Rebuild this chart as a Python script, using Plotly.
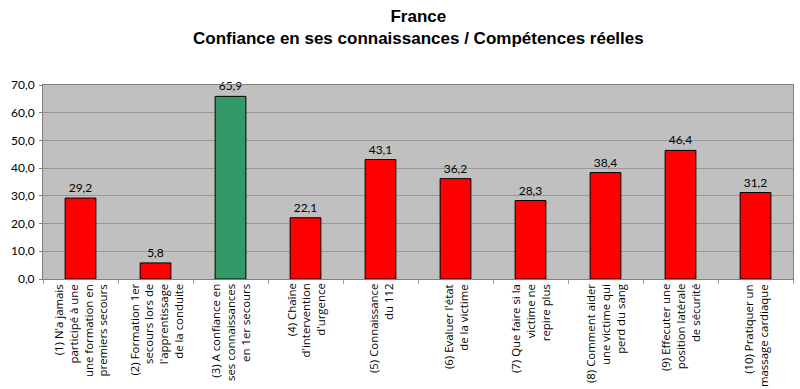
import plotly.graph_objects as go

categories = [
    "(1) N'a jamais<br>participé à une<br>une formation en<br>premiers secours",
    "(2) Formation 1er<br>secours lors de<br>l'apprentissage<br>de la conduite",
    "(3) A confiance en<br>ses connaissances<br>en 1er secours",
    "(4) Chaîne<br>d'intervention<br>d'urgence",
    "(5) Connaissance<br>du 112",
    "(6) Evaluer l'état<br>de la victime",
    "(7) Que faire si la<br>victime ne<br>repire plus",
    "(8) Comment aider<br>une victime qui<br>perd du sang",
    "(9) Effecuter une<br>position latérale<br>de sécurité",
    "(10) Pratiquer un<br>massage cardiaque",
]
values = [29.2, 5.8, 65.9, 22.1, 43.1, 36.2, 28.3, 38.4, 46.4, 31.2]
bar_colors = ["#FF0000", "#FF0000", "#339966", "#FF0000", "#FF0000",
              "#FF0000", "#FF0000", "#FF0000", "#FF0000", "#FF0000"]
y_ticks = [0, 10, 20, 30, 40, 50, 60, 70]

FONT = "Lato, Open Sans, sans-serif"
CAT_FONT = "Open Sans, Noto Sans, sans-serif"

fig = go.Figure(go.Bar(
    x=categories, y=values,
    marker=dict(color=bar_colors, line=dict(color="#000000", width=1)),
    width=0.41,
    text=values, texttemplate="%{y:.1f}", textposition="outside",
    textfont=dict(family=FONT, size=12, color="#000"),
    cliponaxis=False,
))

annotations = [
    dict(x=c, y=0, xref="x", yref="paper", text=c, showarrow=False,
         textangle=-90, align="right", xanchor="center", yanchor="top",
         yshift=-3, font=dict(family=CAT_FONT, size=11.4, color="#000"))
    for c in categories
]
annotations += [
    dict(x=0.5, y=1, xref="paper", yref="paper", xanchor="center", yanchor="top",
         yshift=80, showarrow=False,
         text="<b>France</b><br><b>Confiance en ses connaissances / Compétences réelles</b>",
         font=dict(family="Liberation Sans, Arial, sans-serif", size=17, color="#000")),
]

fig.update_layout(
    width=800, height=389,
    paper_bgcolor="#FFFFFF", plot_bgcolor="#C0C0C0",
    separators=", ",
    margin=dict(l=43, r=7, t=85, b=110, autoexpand=False),
    showlegend=False,
    annotations=annotations,
    xaxis=dict(
        ticks="outside", ticklen=4, tickcolor="#A0A0A0",
        tickson="boundaries", showline=True, linecolor="#808080", mirror=True,
        showticklabels=False, automargin=False,
    ),
    yaxis=dict(
        range=[0, 70], tickvals=y_ticks, tickformat=".1f",
        ticks="outside", ticklen=3, tickcolor="#808080",
        showline=True, linecolor="#808080", mirror=True,
        gridcolor="#999999", gridwidth=1, zeroline=False,
        tickfont=dict(family=FONT, size=12, color="#000"),
        ticklabelstandoff=2,
        automargin=False,
    ),
)

fig.write_html("out.html", config={"displayModeBar": False},
               post_script="document.body.style.margin='0';")
